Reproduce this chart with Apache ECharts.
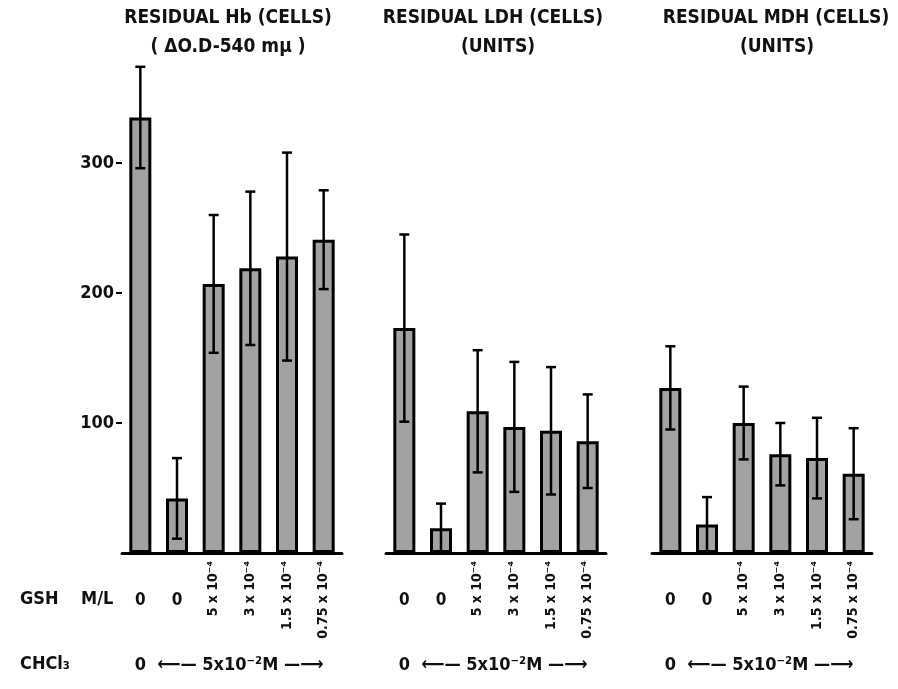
<!DOCTYPE html>
<html>
<head>
<meta charset="utf-8">
<script src="https://cdn.jsdelivr.net/npm/echarts@6/dist/echarts.min.js"></script>
<style>
html,body{margin:0;padding:0;background:#fff;}
#chart{width:898px;height:689px;}
</style>
</head>
<body>
<div id="chart"></div>
<script>
// ---- data ----
const gshLabels = ['0', '0', '5 x 10⁻⁴', '3 x 10⁻⁴', '1.5 x 10⁻⁴', '0.75 x 10⁻⁴'];
const chclLabels = ['0', '', '', '⟵— 5x10⁻²M —⟶', '', ''];
const yTicks = [100, 200, 300];
const panelTitles = ['RESIDUAL Hb (CELLS)', 'RESIDUAL LDH (CELLS)', 'RESIDUAL MDH (CELLS)'];
const panelSubtitles = ['( ΔO.D-540 mμ )', '(UNITS)', '(UNITS)'];
const hbMeans = [335, 42, 207, 219, 228, 241];
const hbErr = [39, 31, 53, 59, 80, 38];
const ldhMeans = [173, 19, 109, 97, 94, 86];
const ldhErr = [72, 19, 47, 50, 49, 36];
const mdhMeans = [127, 22, 100, 76, 73, 61];
const mdhErr = [32, 21, 28, 24, 31, 35];

// ---- styling / layout ----
const FONT = "'Liberation Sans Narrow','DejaVu Sans Condensed','Roboto Condensed','Liberation Sans',sans-serif";
const panels = [
  {means: hbMeans, errs: hbErr, left: 122, titleX: 228, subX: 228},
  {means: ldhMeans, errs: ldhErr, left: 386, titleX: 493, subX: 498},
  {means: mdhMeans, errs: mdhErr, left: 652, titleX: 776, subX: 777}
];
const txt = {fontFamily: FONT, fontWeight: 'bold', color: '#111'};

const grids = [], xAxes = [], yAxes = [], series = [], titles = [];
panels.forEach((p, i) => {
  grids.push({left: p.left, top: 33, width: 220, height: 520});
  titles.push({text: panelTitles[i], left: p.titleX, top: 9, textAlign: 'center', padding: 0,
    textStyle: Object.assign({fontSize: 19}, txt)});
  titles.push({text: panelSubtitles[i], left: p.subX, top: 38, textAlign: 'center', padding: 0,
    textStyle: Object.assign({fontSize: 19}, txt)});
  // main axis with rotated GSH labels
  xAxes.push({type: 'category', gridIndex: i, data: gshLabels,
    axisLine: {lineStyle: {color: '#000', width: 3}}, axisTick: {show: false},
    axisLabel: Object.assign({interval: 0, rotate: 90, margin: 8, fontSize: 14,
      formatter: v => v === '0' ? '' : v}, txt)});
  // '0' labels
  xAxes.push({type: 'category', gridIndex: i, data: gshLabels, position: 'bottom',
    axisLine: {show: false}, axisTick: {show: false},
    axisLabel: Object.assign({interval: 0, margin: 39, fontSize: 17,
      formatter: v => v === '0' ? '0' : ''}, txt)});
  // CHCl3 row
  xAxes.push({type: 'category', gridIndex: i, data: chclLabels.map((c, k) => k + ':' + c), position: 'bottom',
    axisLine: {show: false}, axisTick: {show: false},
    axisLabel: Object.assign({interval: 0, margin: 103, fontSize: 18,
      rich: {a: Object.assign({fontSize: 18, padding: [0, 20, 0, 0]}, txt)},
      formatter: v => {
        const s = v.slice(v.indexOf(':') + 1);
        return (s === '0' || s === '') ? s : '{a|' + s + '}';
      }}, txt)});
  yAxes.push({type: 'value', gridIndex: i, min: 0, max: 400, interval: 100,
    splitLine: {show: false}, axisLine: {show: false},
    axisTick: {show: i === 0, customValues: yTicks, length: 6, lineStyle: {color: '#000', width: 2}},
    axisLabel: Object.assign({show: i === 0, customValues: yTicks, margin: 8, fontSize: 18}, txt)});
  series.push({type: 'bar', xAxisIndex: i * 3, yAxisIndex: i, data: p.means, barWidth: 22,
    itemStyle: {color: '#a2a2a2', borderColor: '#000', borderWidth: 3}});
  series.push({type: 'custom', xAxisIndex: i * 3, yAxisIndex: i, z: 10,
    data: p.means.map((m, k) => [k, m - p.errs[k], m + p.errs[k]]),
    renderItem: (params, api) => {
      const lo = api.coord([api.value(0), Math.max(api.value(1), 0)]);
      const hi = api.coord([api.value(0), api.value(2)]);
      const x = hi[0], w = 5;
      const st = {stroke: '#000', lineWidth: 2.5};
      return {type: 'group', children: [
        {type: 'line', shape: {x1: x, y1: lo[1], x2: x, y2: hi[1]}, style: st},
        {type: 'line', shape: {x1: x - w, y1: hi[1], x2: x + w, y2: hi[1]}, style: st},
        {type: 'line', shape: {x1: x - w, y1: lo[1], x2: x + w, y2: lo[1]}, style: st}
      ]};
    }});
});

const chart = echarts.init(document.getElementById('chart'), null, {renderer: 'canvas'});
chart.setOption({
  backgroundColor: '#fff',
  animation: false,
  title: titles,
  grid: grids,
  xAxis: xAxes,
  yAxis: yAxes,
  series: series,
  graphic: [
    {type: 'text', left: 20, top: 590, style: {text: 'GSH    M/L', fontFamily: FONT, fontSize: 18, fontWeight: 'bold', fill: '#111'}},
    {type: 'text', left: 20, top: 655, style: {text: 'CHCl₃', fontFamily: FONT, fontSize: 18, fontWeight: 'bold', fill: '#111'}}
  ]
});
</script>
</body>
</html>
